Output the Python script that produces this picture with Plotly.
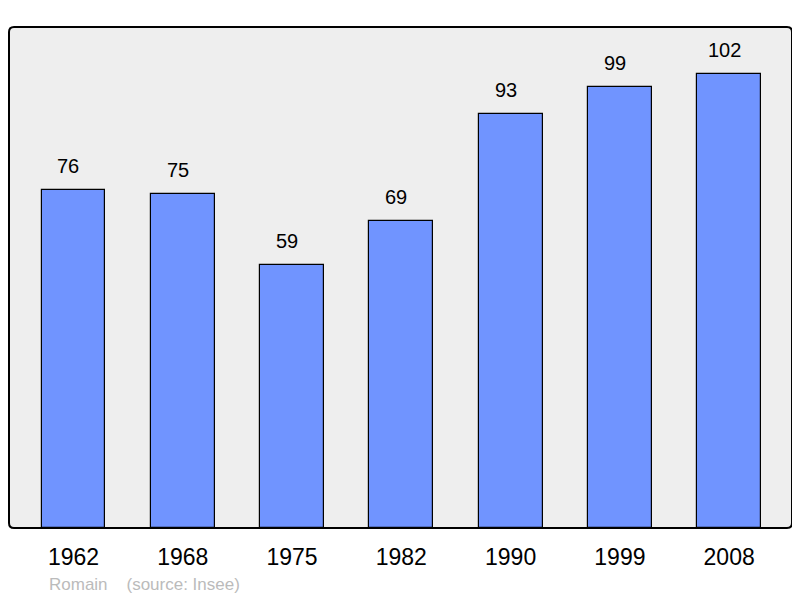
import plotly.graph_objects as go

years = ["1962", "1968", "1975", "1982", "1990", "1999", "2008"]
population = [76, 75, 59, 69, 93, 99, 102]

idx = list(range(len(years)))

fig = go.Figure()
fig.add_trace(go.Bar(
    x=idx, y=population, width=0.585,
    marker=dict(color="#7094FF", line=dict(color="#000000", width=1.2)),
    hoverinfo="skip",
))

for i, v in zip(idx, population):
    fig.add_annotation(x=i, y=v, text=str(v), showarrow=False,
                       xref="x", yref="y",
                       yanchor="bottom", yshift=11, xshift=-5,
                       font=dict(family="Liberation Sans, Arial", size=20, color="#000000"))

W, H = 792, 590
L, R, T, B = 1, 8, 19, 70
pw, ph = W - L - R, H - T - B

# rounded border of plot area
rx = 5 / pw
ry = 5 / ph
path = (f"M {rx},0 L {1-rx},0 Q 1,0 1,{ry} L 1,{1-ry} Q 1,1 {1-rx},1 "
        f"L {rx},1 Q 0,1 0,{1-ry} L 0,{ry} Q 0,0 {rx},0 Z")
fig.add_shape(type="path", path=path, xref="x domain", yref="y domain",
              line=dict(color="#000000", width=2), layer="above")

fig.add_annotation(text="Romain&nbsp;&nbsp;&nbsp;&nbsp;(source: Insee)", xref="paper", yref="paper",
                   x=(47 - 9) / pw, y=-(584 - 528) / ph, xanchor="left", yanchor="middle",
                   showarrow=False,
                   font=dict(family="Liberation Sans, Arial", size=17, color="#BBBBBB"))

fig.update_layout(
    width=W, height=H,
    margin=dict(l=L, r=R, t=T, b=B, pad=0),
    plot_bgcolor="#EEEEEE", paper_bgcolor="#FFFFFF",
    showlegend=False,
    xaxis=dict(range=[-0.59, 6.575], showgrid=False, zeroline=False,
               tickmode="array", tickvals=idx, ticktext=years,
               ticks="", showline=False, ticklabelstandoff=13,
               tickfont=dict(family="Liberation Sans, Arial", size=23, color="#000000")),
    yaxis=dict(range=[0, 112.5], showgrid=False, zeroline=False, showticklabels=False,
               ticks="", showline=False),
    bargap=0,
)

fig.write_html("out.html")
